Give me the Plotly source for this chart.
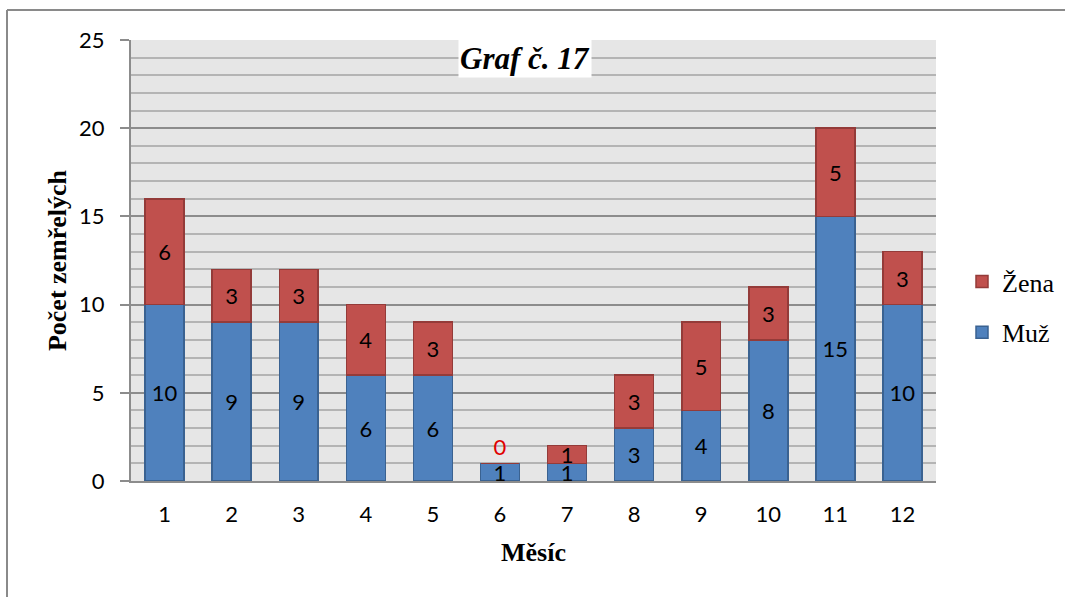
import plotly.graph_objects as go

# Počet zemřelých podle měsíce, rozděleno na muže a ženy
mesice = ["1", "2", "3", "4", "5", "6", "7", "8", "9", "10", "11", "12"]
muzi = [10, 9, 9, 6, 6, 1, 1, 3, 4, 8, 15, 10]
zeny = [6, 3, 3, 4, 3, 0, 1, 3, 5, 3, 5, 3]

BLUE = "#4F81BD"
RED = "#C0504D"
LABEL_FONT = "Lato"
SERIF = "Liberation Serif"

# plot-area box in pixels
W, H = 1065, 597
L, R, T, B = 131, 936, 40, 481

fig = go.Figure()

fig.add_trace(go.Bar(
    x=mesice, y=muzi, name="Muž",
    marker=dict(color=BLUE, line=dict(color="#3A6291", width=1.5)),
    text=[str(v) for v in muzi], textposition="inside", textangle=0,
    insidetextanchor="middle", constraintext="none",
    textfont=dict(family=LABEL_FONT, size=22, color="black"),
    legendgroup="m", legendrank=2,
))

# the zero-height segment shows its label above the bar, in red
zeny_pos = ["outside" if v == 0 else "inside" for v in zeny]
zeny_col = ["#E00000" if v == 0 else "black" for v in zeny]
fig.add_trace(go.Bar(
    x=mesice, y=zeny, name="Žena",
    marker=dict(color=RED, line=dict(color="#943B39", width=1.5)),
    text=[str(v) for v in zeny], textposition=zeny_pos, textangle=0,
    insidetextanchor="middle", constraintext="none", cliponaxis=False,
    textfont=dict(family=LABEL_FONT, size=22, color=zeny_col),
    legendgroup="z", legendrank=1,
))

grid_minor = "#B4B4B4"
grid_major = "#8C8C8C"

fig.update_layout(
    width=W, height=H,
    barmode="stack", bargap=0.42,
    paper_bgcolor="white", plot_bgcolor="#E6E6E6",
    margin=dict(l=L, r=W - R, t=T, b=H - B, pad=0, autoexpand=False),
    font=dict(family=LABEL_FONT, size=22, color="black"),
    showlegend=True,
    legend=dict(
        xref="container", yref="container",
        x=962 / W, y=1 - 307 / H,
        xanchor="left", yanchor="middle",
        traceorder="grouped", tracegroupgap=14,
        font=dict(family=SERIF, size=26, color="black"),
        bgcolor="rgba(0,0,0,0)", itemwidth=30,
    ),
    xaxis=dict(
        showgrid=False, ticks="", showline=True, linecolor=grid_major, linewidth=2,
        tickfont=dict(family=LABEL_FONT, size=22), ticklabelstandoff=13,
        title=dict(text="<b>Měsíc</b>", font=dict(family=SERIF, size=26), standoff=16),
    ),
    yaxis=dict(
        range=[0, 25], dtick=5, tick0=0,
        showgrid=True, gridcolor=grid_major, gridwidth=2,
        minor=dict(dtick=1, showgrid=True, gridcolor=grid_minor, gridwidth=2),
        showline=True, linecolor=grid_major, linewidth=2,
        ticks="outside", ticklen=9, tickcolor=grid_major, tickwidth=2,
        tickfont=dict(family=LABEL_FONT, size=22), ticklabelstandoff=11,
        title=dict(text="<b>Počet zemřelých</b>", font=dict(family=SERIF, size=26), standoff=5),
        zeroline=False,
    ),
    annotations=[dict(
        text="<b><i>Graf č. 17</i></b>",
        xref="paper", yref="paper",
        x=(525 - L) / (R - L), y=(481 - 58) / (B - T),
        xanchor="center", yanchor="middle", showarrow=False,
        font=dict(family=SERIF, size=31, color="black"),
        bgcolor="white", borderpad=1,
    )],
    shapes=[
        # outer chart frame (left and top edges)
        dict(type="line", xref="paper", yref="paper",
             x0=(7 - L) / (R - L), x1=(7 - L) / (R - L),
             y0=(B - 10) / (B - T), y1=(B - 600) / (B - T),
             line=dict(color="#8A8A8A", width=2)),
        dict(type="line", xref="paper", yref="paper",
             x0=(7 - L) / (R - L), x1=(1066 - L) / (R - L),
             y0=(B - 10) / (B - T), y1=(B - 10) / (B - T),
             line=dict(color="#8A8A8A", width=2)),
    ],
)

fig.write_html("out.html")
